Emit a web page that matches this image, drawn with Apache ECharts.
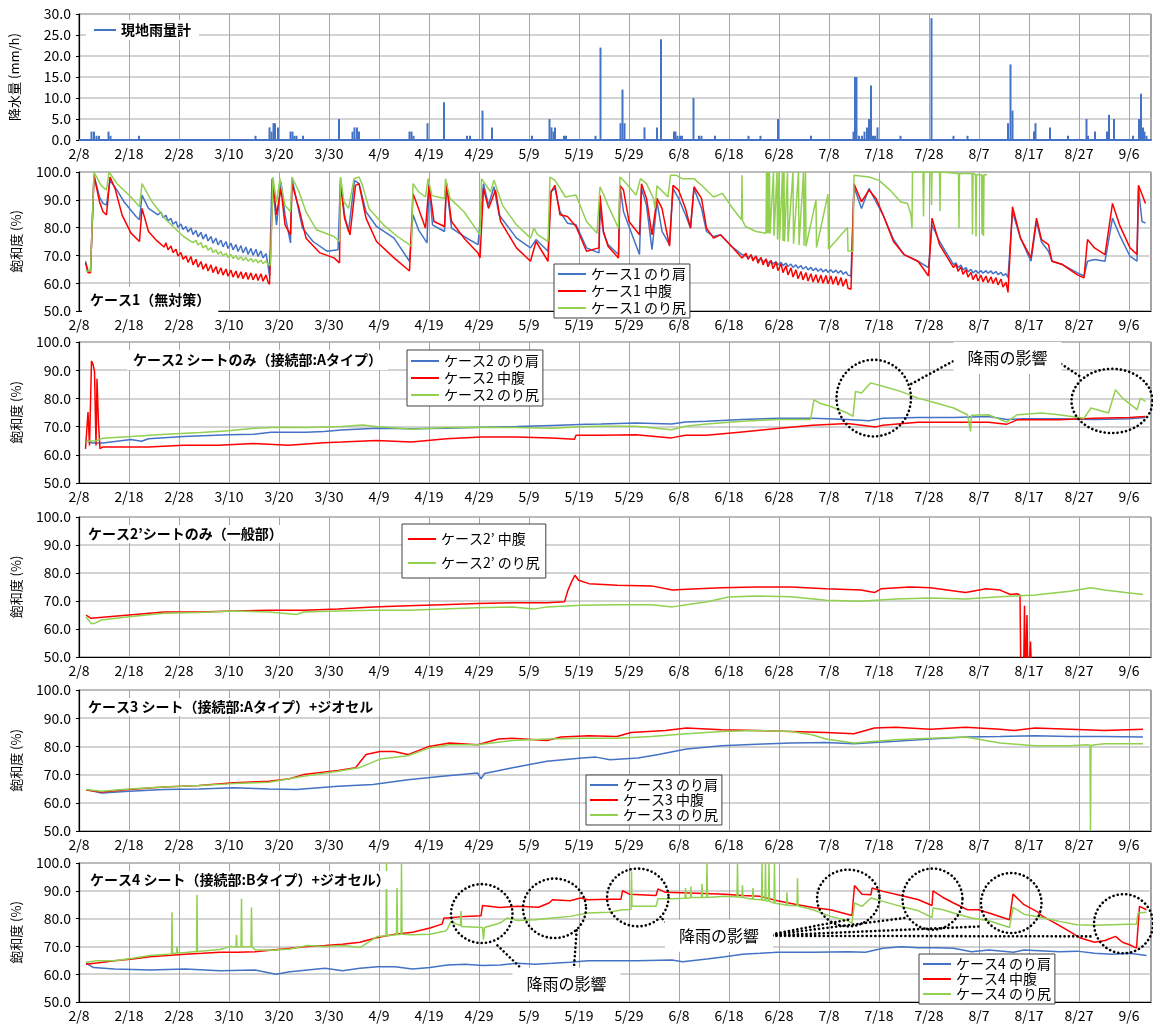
<!DOCTYPE html>
<html><head><meta charset="utf-8">
<script src="https://cdn.jsdelivr.net/npm/echarts@6/dist/echarts.min.js"></script>
<style>html,body{margin:0;padding:0;background:#fff}#c{width:1153px;height:1026px}</style>
</head><body><div id="c"></div>
<script>
// ---- tick labels (day 0 = 2/8) ----
const tickLabels = ['2/8','2/18','2/28','3/10','3/20','3/30','4/9','4/19','4/29','5/9','5/19','5/29','6/8','6/18','6/28','7/8','7/18','7/28','8/7','8/17','8/27','9/6'];

// ---- rainfall [day, mm/h] ----
const rainfall = [[2.5,2],[3,2],[3.5,1],[4,1],[5.9,2],[6.3,1],[12,1],[35.3,1],[38.1,3],[38.5,2],[38.9,4],[39.2,4],[39.8,3],[42.3,2],[42.7,2],[43.1,1],[43.5,1],[44.8,1],[52,5],[54.7,2],[55.1,3],[55.6,3],[56,2],[66.1,2],[66.5,2],[66.9,1],[69.7,4],[73,9],[77.6,1],[78.2,1],[80.7,7],[82.6,3],[90.6,1],[94.1,5],[94.5,3],[94.9,2],[95.2,3],[97,1],[97.4,1],[103.3,1],[104.3,22],[108.3,4],[108.7,12],[109.1,4],[113.1,3],[115.6,3],[116.4,24],[119,2],[119.3,2],[119.7,1],[120.2,1],[120.6,1],[122.9,10],[124,1],[124.5,1],[127.2,1],[133.9,1],[136.3,1],[139.8,5],[146.4,1],[154.9,2],[155.2,15],[155.5,15],[156,1],[156.6,1],[157.1,2],[157.6,3],[158,5],[158.4,13],[158.8,1],[159.2,1],[159.7,3],[164.3,1],[170.5,29],[174.9,1],[177.7,1],[185.8,4],[186.3,18],[186.7,7],[191,2],[191.3,4],[194.2,3],[197.8,1],[201.5,5],[201.8,1],[203.2,2],[205.6,2],[206,6],[207,5],[210.8,1],[212,5],[212.4,11],[212.8,3],[213.1,2],[213.5,1]];

// ---- case 1 ----
const c1Shoulder = [[1.3,67.9],[1.8,64.4],[2.3,64.4],[3,98.8],[4.1,91],[4.8,88.7],[5.5,88.1],[6.2,97],[7.6,93.5],[9,89.3],[11.4,84],[12.1,82.8],[12.6,91.7],[13.9,86.9],[15.8,84.6],[16.4,85.6],[16.8,83.6],[17.4,84.4],[17.8,82.4],[18.4,83.3],[18.8,81.2],[19.4,82.2],[19.8,80.1],[20.4,81.3],[20.8,79.3],[21.4,80.4],[21.8,78.4],[22.4,79.9],[22.8,77.5],[23.4,79],[23.8,76.7],[24.4,78.3],[24.8,75.9],[25.4,77.6],[25.8,75.2],[26.4,76.8],[26.8,74.4],[27.4,76.2],[27.8,73.8],[28.4,75.5],[28.8,73.1],[29.4,75],[29.8,72.5],[30.4,74.4],[30.8,72],[31.4,73.9],[31.8,71.4],[32.4,73.5],[32.8,70.9],[33.4,73],[33.8,70.4],[34.4,72.5],[34.8,70],[35.4,72.2],[35.8,69.6],[36.4,71.6],[36.8,69.1],[37.4,70.6],[37.8,66.5],[38.1,62.6],[38.6,97.6],[39.5,81],[40.4,96.4],[41.2,84.6],[42.3,74.5],[42.6,97.6],[44,85.7],[44.7,79.8],[46.8,75],[49.6,71.5],[51.8,72],[52.3,97.6],[53.1,84.6],[53.9,78.6],[55.1,97],[56,95.8],[57.4,85.7],[59.5,80.4],[63,76.2],[66.1,67.9],[66.8,84.6],[67.9,79.2],[69.6,74.5],[70,95.8],[70.7,81],[73.1,78.6],[73.5,95.8],[74.5,79.8],[77,76.8],[79.8,73.9],[80.9,95.8],[81.9,88.1],[83,94.7],[84,84.6],[87.5,76.2],[90.3,72.7],[91.4,75.7],[93.8,71.5],[94.4,92.9],[95.2,94.1],[96.2,85.7],[97.7,81.6],[99.4,81],[101.5,72.7],[104,70.9],[104.2,86.9],[104.9,78],[105.8,73.9],[107.9,70.3],[108.2,95.2],[108.9,85.7],[110,80.4],[112.1,70.3],[112.5,94.1],[113.5,88],[114.6,72.1],[115.6,89.3],[116.6,78.6],[118.1,73.9],[118.8,94.1],[119.9,90.5],[121.3,84.6],[122.3,79.8],[123,94.1],[124.5,87],[125.5,78.6],[126.9,76.8],[128.3,77.4],[130.5,73.3],[132.6,70.3],[134,69.3],[134.4,70.2],[134.8,68.7],[135.4,69.6],[135.8,68.1],[136.4,69],[136.8,67.6],[137.4,68.5],[137.8,67.2],[138.4,68.1],[138.8,66.9],[139.4,67.8],[139.8,66.6],[140.4,67.5],[140.8,66.3],[141.4,67.2],[141.8,66],[142.4,66.9],[142.8,65.7],[143.4,66.6],[143.8,65.4],[144.4,66.3],[144.8,65.1],[145.4,66],[145.8,64.8],[146.4,65.7],[146.8,64.5],[147.4,65.4],[147.8,64.3],[148.4,65.2],[148.8,64.1],[149.4,65],[149.8,63.9],[150.4,64.8],[150.8,63.8],[151.4,64.7],[151.8,63.6],[152.4,64.5],[152.8,63.3],[153.4,64.1],[153.8,62.9],[154.4,62.6],[155,94.7],[156.5,86.9],[158,94.1],[159.4,89.3],[160.8,84.6],[162.9,75.7],[165,70.3],[167.8,67.9],[169.9,65.6],[170.6,81],[172.1,75],[174.9,66.7],[175.4,67.3],[175.8,65.6],[176.4,66.5],[176.8,64.8],[177.4,65.6],[177.8,64.1],[178.4,65],[178.8,63.7],[179.4,64.6],[179.8,63.6],[180.4,64.5],[180.8,63.6],[181.4,64.5],[181.8,63.6],[182.4,64.4],[182.8,63.4],[183.4,64.2],[183.8,63.1],[184.4,63.9],[184.8,62.7],[185.4,63.4],[185.8,62],[186.7,85.7],[188.3,76.2],[190.4,67.9],[191.5,82.2],[192.5,74.8],[193.9,71.5],[194.6,67.9],[196.7,66.7],[199.6,63.8],[201,62.6],[201.7,67.9],[203.1,68.5],[205.2,67.9],[206.7,83.4],[208.1,77.4],[210.2,69.7],[211.6,67.9],[211.9,94.1],[212.6,82.2],[213.3,81.6]];
const c1Middle = [[1.3,67.3],[1.8,63.8],[2.3,63.8],[3,98.8],[4.1,89.3],[4.8,85.7],[5.5,84.6],[6.2,98.2],[7.2,94.1],[8.6,84.6],[10.4,78],[12.1,75],[12.6,86.9],[13.9,78.6],[15.5,75.4],[17,73],[17.4,74.5],[17.8,72],[18.4,73.4],[18.8,71],[19.4,72.2],[19.8,69.8],[20.4,71],[20.8,68.6],[21.4,69.8],[21.8,67.5],[22.4,69.6],[22.8,66.6],[23.4,68.6],[23.8,65.8],[24.4,67.8],[24.8,65],[25.4,67],[25.8,64.4],[26.4,66.6],[26.8,63.8],[27.4,66],[27.8,63.3],[28.4,65.5],[28.8,62.9],[29.4,65.1],[29.8,62.5],[30.4,64.7],[30.8,62.2],[31.4,64.4],[31.8,61.9],[32.4,64.1],[32.8,61.6],[33.4,63.9],[33.8,61.4],[34.4,63.7],[34.8,61.2],[35.4,63.4],[35.8,61],[36.4,63.4],[36.8,60.7],[37.4,63],[37.8,60.4],[38.1,59.6],[38.8,96.4],[39.5,84.6],[40.4,94.1],[41.2,81],[42.3,77.4],[42.6,95.8],[44,86.9],[45.4,76.2],[48.2,70.9],[51,69.1],[52.1,67.3],[52.3,95.8],[53.1,83.4],[54.2,77.4],[55.3,95.2],[56,95.8],[57.4,83.4],[59.5,75],[63,69.1],[66.1,64.4],[66.8,92.3],[67.9,86.9],[69.3,79.8],[70,95.2],[71,82.2],[73.1,80.4],[73.5,95.8],[74.5,82.2],[77,76.2],[79.8,70.9],[80.2,69.1],[80.9,94.1],[81.9,86.9],[83.3,93.5],[84.3,82.2],[87.5,72.7],[90.3,67.9],[91.4,75],[93.8,67.9],[94.4,92.9],[95.2,95.2],[96.2,84.6],[97.7,84],[99.4,80.4],[101.5,71.5],[104,72.7],[104.2,91.7],[104.9,78.6],[105.8,73.3],[107.9,69.1],[108.2,95.2],[108.9,93.5],[110,82.2],[112.1,77.4],[112.5,95.8],[113.5,90.5],[114.6,77.4],[115.6,90.5],[116.6,86.9],[118.1,73.3],[118.8,95.2],[119.9,93.5],[121.3,86.9],[122.3,79.8],[123,94.7],[124.5,90.5],[125.5,79.8],[126.9,76.2],[128.3,77.4],[130.5,73.3],[132.6,69.1],[133.4,70.8],[133.8,68.6],[134.4,70.3],[134.8,68],[135.4,69.8],[135.8,67.2],[136.4,69.3],[136.8,66.6],[137.4,68.8],[137.8,65.9],[138.4,68.2],[138.8,65.2],[139.4,67.6],[139.8,64.5],[140.4,67],[140.8,63.8],[141.4,66.3],[141.8,63],[142.4,65.5],[142.8,62.2],[143.4,64.8],[143.8,61.6],[144.4,64.2],[144.8,61.2],[145.4,63.8],[145.8,60.8],[146.4,63.4],[146.8,60.4],[147.4,63.1],[147.8,60.2],[148.4,62.9],[148.8,60],[149.4,62.8],[149.8,59.8],[150.4,62.6],[150.8,59.6],[151.4,62.4],[151.8,59.3],[152.4,62],[152.8,58.9],[153.4,61.5],[153.8,58.2],[154.4,57.8],[155,95.8],[156.5,89.3],[158,93.5],[159.4,90.5],[160.8,84.6],[162.9,75],[165,70.3],[167.8,67.9],[169.9,62.6],[170.6,83.4],[172.1,73.9],[174.9,65.6],[175.4,66.8],[175.8,64.3],[176.4,65.8],[176.8,63.2],[177.4,64.9],[177.8,62.2],[178.4,63.9],[178.8,61.3],[179.4,63.3],[179.8,60.8],[180.4,62.9],[180.8,60.5],[181.4,62.6],[181.8,60.2],[182.4,62.3],[182.8,59.9],[183.4,62],[183.8,59.4],[184.4,61.5],[184.8,58.6],[185.4,60.4],[185.8,56.7],[186.7,87.5],[188.3,76.2],[190.4,69.1],[191.5,83.4],[192.5,75.7],[193.9,73.9],[194.6,67.9],[196.7,66.7],[199.6,63.1],[201,61.9],[201.7,75.7],[203.1,72.7],[205.2,70.3],[206.7,88.7],[208.1,81],[210.2,72.7],[211.6,70.3],[211.9,95.2],[213.3,88.7]];
const c1Toe = [[1.3,64.6],[1.8,64.4],[2.3,64.4],[3,100],[4.4,95.2],[5.5,93.5],[6,100],[7.6,95.8],[10.4,91],[12.1,87.5],[12.6,95.8],[14.6,89.3],[17.4,82.8],[20.9,76.8],[22.8,74.6],[23.4,75.4],[23.8,73.8],[24.4,74.6],[24.8,72.7],[25.4,73.6],[25.8,71.9],[26.4,72.8],[26.8,71.1],[27.4,72],[27.8,70.4],[28.4,71.4],[28.8,69.8],[29.4,70.8],[29.8,69.3],[30.4,70.3],[30.8,68.9],[31.4,69.9],[31.8,68.5],[32.4,69.5],[32.8,68.2],[33.4,69.2],[33.8,67.9],[34.4,68.9],[34.8,67.6],[35.4,68.6],[35.8,67.3],[36.4,68.3],[36.8,67],[37.4,68],[37.8,66.7],[38.3,66.5],[38.8,98.2],[39.5,89],[40.2,97.6],[41.2,88],[42.3,85.7],[42.6,98.2],[44,92.9],[45.4,85.7],[47.5,79.2],[51,76.8],[52.1,75],[52.3,98.2],[53,89.3],[53.9,86.9],[55,97.6],[56,98.2],[56.7,95.2],[58,86.9],[60.9,81],[63.7,76.8],[66.5,73.3],[66.8,95.8],[67.9,92.9],[69.3,91],[69.8,97.6],[70.6,91.5],[73.1,90.5],[73.3,97.6],[74.2,90.5],[77,85.7],[80.2,77.4],[80.5,97.6],[82.3,92.9],[83,97],[84.7,88],[87.5,81],[90.3,76.2],[91,79.8],[91.7,77.5],[93.8,75],[94.2,98.2],[95.2,97],[97.3,91],[99.4,91.7],[101.5,82.2],[103.6,78],[104.2,94.7],[104.9,92],[105.8,88],[107.9,79.8],[108.2,98.2],[109.2,96.4],[111.4,91.7],[112.3,97.6],[113.5,95.8],[114.9,90.5],[115.2,86.9],[115.6,95],[117.8,91],[118.3,98.8],[119.5,98.8],[120.6,97.6],[123,97.6],[124.8,94.7],[126.9,91],[128.7,92.3],[130.5,87.5],[132.5,82.8],[132.6,98.8],[132.7,82.6],[133.3,80.4],[135.4,78.6],[137.4,78],[137.5,100],[137.6,78],[137.8,100],[137.9,78],[138.1,100],[138.2,77.8],[138.9,100],[139,77],[139.6,100],[139.7,75.7],[140,100],[140.1,75.5],[140.7,100],[140.8,75.2],[141,100],[141.1,75],[141.7,100],[141.8,74.8],[142.8,100],[142.9,74.2],[143.9,100],[144,73.8],[144.9,100],[145,73.5],[145.3,100],[145.4,73.3],[147.4,90],[147.5,72.8],[149.8,92],[149.9,72.2],[153.7,80],[153.8,71.6],[154.8,71.5],[155,98.8],[158,98.2],[160,97],[162.2,93.5],[164.3,89.3],[165.7,88.7],[166.4,84.6],[166.6,79.8],[166.7,100],[168.8,100],[168.9,84],[169,100],[170.4,100],[170.5,88],[170.6,100],[172.1,100],[172.2,86],[172.3,100],[175.9,99.5],[176,79.8],[176.1,99.5],[178.6,99.5],[178.7,77.5],[178.8,99.5],[179.3,99],[179.4,76.8],[179.5,99],[180.5,99],[180.6,77.5],[180.7,99],[180.9,77],[181,99],[181.6,99]];

// ---- case 2 ----
const c2Shoulder = [[1.3,65],[2.7,64.2],[4.8,64.2],[10.4,65.4],[12.5,64.8],[13.9,65.7],[20.9,66.5],[30,67.1],[35,67.3],[38.4,68],[45.4,68],[49,68.3],[52.5,68.8],[59.5,69.4],[66.5,69.2],[73.5,69.4],[80.5,69.8],[87.5,70],[94.5,70.4],[101.5,70.8],[104.4,70.9],[111.4,71.3],[118.5,70.9],[121.3,71.6],[125.5,71.9],[132.6,72.5],[139.6,73],[146.7,73],[153.7,72.5],[158,72.1],[160.8,73],[167.8,73.2],[174.9,73.2],[181.9,73.6],[185.5,72.5],[189,72.8],[196,72.8],[203.1,72.5],[210.1,72.8],[213.3,73.2]];
const c2Middle = [[1.3,62.1],[1.8,75.2],[2.1,63.3],[2.5,93.3],[2.8,92.1],[3.1,89.6],[3.4,63.3],[3.6,87],[3.9,70.9],[4.2,62.2],[4.5,61.6],[4.8,62.8],[10.4,62.8],[13.9,62.8],[20.9,63.4],[27.9,63.4],[34.9,64],[41.9,63.4],[48.9,64.3],[52.5,64.5],[59.5,65.1],[66.5,64.5],[73.5,65.7],[80.5,66.3],[87.5,66.3],[94.5,66],[99.1,65.5],[99.4,66.9],[104.4,66.9],[111.4,67.1],[118.5,66],[121.3,66.9],[125.5,66.9],[132.6,68.1],[139.6,69.3],[146.7,70.5],[153.7,71.1],[159.4,69.9],[160.8,70.5],[167.8,71.5],[174.9,71.5],[181.9,71.5],[185.5,70.8],[187.6,72.4],[196,72.4],[203.1,73],[210.1,73.2],[213.3,73.6]];
const c2Toe = [[1.3,64.7],[3.4,65],[4.8,65.9],[10.4,66.5],[17.4,67.3],[24.4,67.9],[30,68.5],[35,69.4],[39.8,69.8],[45.4,69.7],[52.5,70],[56.7,70.6],[59.5,70],[66.5,69.1],[73.5,69.7],[80.5,69.8],[87.5,69.7],[94.5,69.4],[101.5,70],[104.4,70.1],[111.4,70.1],[118.5,68.9],[121.3,70.1],[125.5,70.9],[132.6,71.9],[139.6,72.5],[146.3,72.5],[147,79.6],[148,78.4],[150.2,77.2],[153.7,74.8],[154.8,73.6],[155.3,82.5],[156.5,81.9],[158.3,85.5],[160.8,84.3],[164.3,82.5],[167.8,80.1],[171.4,78.4],[174.9,76.6],[177.7,74.2],[178.3,68.3],[178.5,74],[181.9,74.2],[185.5,71.6],[187.6,74.2],[192.5,74.8],[196,74.2],[201,73],[202.4,76.6],[205.9,74.8],[207.3,83.1],[208.7,80.1],[211.6,76],[212.3,80.1],[213.3,78.9]];

// ---- case 2' ----
const c2pMiddle = [[1.4,65],[2.4,63.8],[10,65],[17,66.1],[24,66.1],[31,66.4],[38,66.7],[45,66.7],[51.8,67.1],[58.8,67.9],[65.8,68.3],[72.7,68.7],[79.7,69.1],[86.7,69.4],[93.6,69.4],[97.1,69.7],[97.8,73.9],[98.5,76.8],[99.2,79.2],[99.9,77.4],[102,76.2],[107.6,75.6],[114.5,75.4],[118.7,73.9],[121.5,74.2],[128.5,74.7],[135.5,75],[142.4,75],[149.4,74.4],[156.4,73.9],[159.1,73],[160.5,74.4],[166.1,75],[170.3,74.7],[177.3,73],[181.4,74.4],[184.2,73.9],[186.3,72.3],[187.7,72.6],[188.2,72],[188.4,40],[188.9,40],[189.1,68.3],[189.3,40],[189.6,65],[189.8,40],[190.3,55.5],[190.6,40]];
const c2pToe = [[1.4,64.4],[2.4,62],[3.1,62],[4.5,63.2],[10,64.4],[17,65.6],[24,65.9],[31,66.4],[38,66.1],[43.5,65.2],[44.9,66.1],[51.8,66.4],[58.8,66.7],[65.8,66.7],[72.7,67.1],[79.7,67.6],[86.7,67.9],[90.9,67.1],[93.6,67.9],[100.6,68.5],[107.6,68.7],[114.5,68.7],[118.7,67.9],[121.5,68.7],[125.7,69.7],[129.9,71.4],[135.5,71.8],[142.4,71.5],[149.4,70.3],[156.4,69.9],[163.3,70.7],[170.3,71.1],[177.3,70.7],[184.2,71.5],[191.2,72.1],[198.2,73.5],[202.3,74.7],[205.1,73.9],[209.3,73],[212.8,72.3]];

// ---- case 3 ----
const c3Shoulder = [[1.4,64.7],[4.5,63.5],[10,64.1],[17,64.7],[24,64.9],[31,65.3],[38,64.9],[43.5,64.7],[51.8,65.9],[58.8,66.5],[65.8,68.2],[72.7,69.4],[79.7,70.6],[80.4,68.5],[81.1,70.4],[86.7,72.4],[93.6,74.7],[100.6,75.9],[103.4,76.2],[106.2,75.3],[111.8,75.9],[115.9,77.1],[121.5,79.1],[128.5,80.2],[135.5,80.8],[142.4,81.2],[149.4,81.4],[155,80.9],[163.3,81.8],[170.3,82.6],[177.3,83.3],[184.2,83.5],[191.2,83.8],[198.2,83.5],[205.1,83.5],[212.8,83.3]];
const c3Middle = [[1.4,64.5],[4.5,63.8],[10,64.7],[17,65.6],[24,66.1],[31,67.1],[38,67.6],[42.1,68.5],[44.9,70],[51.8,71.5],[55.3,72.4],[57.4,77.1],[60.2,78.2],[63,78.2],[65.8,77.1],[70,80],[74.1,81.2],[79.7,80.6],[83.9,82.6],[86.7,82.9],[93.6,82.1],[96.4,83.3],[102,83.8],[107.6,83.5],[110.4,84.9],[117.3,85.6],[121.5,86.5],[128.5,85.9],[135.5,85.6],[142.4,85.3],[149.4,84.9],[155,84.5],[159.1,86.5],[163.3,86.8],[170.3,86.1],[177.3,86.8],[184.2,86.1],[187,85.6],[191.2,86.5],[198.2,86.1],[205.1,85.6],[212.8,86.1]];
const c3Toe = [[1.4,64.7],[4.5,64.1],[10,64.9],[17,65.6],[24,66.1],[31,66.8],[38,67.3],[44.9,69.4],[51.8,71.2],[56,72.4],[60.2,75.5],[65.8,76.7],[70,79.4],[74.1,80.6],[79.7,80.6],[86.7,82.1],[93.6,82.6],[100.6,82.9],[107.6,82.9],[114.5,83.5],[121.5,84.5],[128.5,85.3],[135.5,85.6],[142.4,85.3],[146.6,84.1],[149.4,82.6],[155,81.2],[163.3,82.4],[170.3,82.9],[177.3,83.3],[184.2,81.2],[191.2,80.2],[198.2,80.2],[201.6,80.6],[202.2,80.4],[202.3,50],[202.4,80.4],[205.1,80.9],[212.8,80.9]];

// ---- case 4 ----
const c4Shoulder = [[1.4,64],[2.9,62.4],[7.1,61.9],[14.2,61.5],[21.2,61.9],[28.2,61.2],[35.2,61.5],[39.4,60],[42.2,60.9],[45.7,61.5],[49.2,62.1],[52.7,61.2],[56.2,62.1],[59.7,62.7],[63.2,62.7],[66.7,61.9],[70.2,62.4],[73.7,63.3],[77.2,63.6],[80.7,63.1],[84.2,63.3],[87.7,63.9],[91.2,63.6],[94.7,63.9],[98.2,64.3],[101.8,64.8],[104.5,64.8],[111.5,64.8],[118.6,65.1],[120.7,64.5],[125.6,65.5],[129.2,66.3],[132.7,67.2],[136.2,67.5],[139.7,67.9],[146.8,67.9],[153.8,68.1],[157.3,67.9],[160.8,69.3],[164.4,69.9],[167.9,69.5],[171.4,69.5],[174.9,69.3],[178.5,68.1],[182,68.7],[186.9,67.9],[189,68.7],[196.1,68.1],[199.6,68.3],[203.1,67.5],[206.6,67.2],[210.1,67.5],[213.5,66.7]];
const c4Middle = [[1.4,63.6],[3.6,64],[7.1,64.8],[10.7,65.5],[14.2,66.3],[17.7,66.7],[21.2,67.2],[24.7,67.5],[28.2,67.9],[31.7,67.9],[35.2,68.1],[38.7,68.7],[42.2,69.3],[45.7,70],[49.2,70.3],[52.7,70.8],[56.2,71.5],[59.7,73.2],[63.2,74.4],[66.7,75.1],[70.2,76.6],[72.6,78],[73,80.2],[73.7,80.2],[77.2,80.8],[80.4,81],[80.7,84.7],[84.2,84],[87.7,84.4],[91.9,84.1],[94,85.6],[94.7,86.8],[98.2,86.4],[100.3,87.4],[101.8,86.8],[106,87],[108.4,87],[108.7,90],[110.1,88.8],[115.4,88.3],[115.8,90.7],[117.2,89.5],[122.1,89.2],[129.2,88.8],[132.7,88.3],[136.2,88],[139.7,86.4],[143.2,85.2],[146.8,84],[150.3,83.2],[154.6,81.1],[155.1,91.9],[156.6,88.8],[158.4,88.6],[158.6,91],[160.8,89.8],[164.4,88.3],[167.9,86.8],[170.6,84.7],[170.8,90],[172.8,87.6],[174.9,85.6],[177.7,83.2],[179.9,83.2],[182,82],[186.1,79.6],[186.8,88.8],[189,85],[191.8,82.3],[192.5,81.1],[194.6,79],[197.5,76],[200.3,73],[203.1,71.5],[205.2,72.1],[207.3,73.6],[208.7,71.5],[210.1,70.6],[211.5,69.4],[212.1,84.4],[213.5,83.2]];
const c4Toe = [[1.4,64.3],[3.6,64.8],[7.1,64.8],[10.7,65.7],[14.2,66.7],[17.7,67.2],[18.5,67.3],[18.6,82.3],[18.7,67.4],[19.5,67.6],[19.6,70],[19.7,67.6],[21.2,67.8],[23.5,68.2],[23.6,88.6],[23.7,68.2],[28.2,68.9],[30.3,70],[31.4,69.8],[31.5,74.2],[31.6,69.8],[32.4,69.9],[32.5,87.1],[32.6,69.9],[34.4,70],[34.5,84],[34.6,70],[35.2,68.8],[38.7,68.6],[42.2,69.1],[45.7,70.3],[49.2,70],[52.7,70.3],[56.2,69.6],[59.7,73.6],[61.4,73.8],[61.5,100],[61.6,73.8],[63.5,74.2],[63.6,91],[63.7,74.2],[64.4,74.4],[64.5,100],[64.6,74.4],[66.7,74.2],[70.2,74.4],[73.3,75.5],[73.7,76.3],[74.4,79],[75.5,78],[76.3,77.5],[76.4,82.7],[76.5,77.2],[80.7,76.8],[80.9,72.4],[81.1,76.8],[84.2,78.4],[85.6,80.2],[87.7,79.3],[91.2,79.6],[94.7,80.2],[98.2,80.8],[101.8,82],[106,82.3],[108.7,83.2],[110.4,83.3],[110.5,97],[110.6,84.4],[115.4,84.4],[115.8,87.1],[118.6,87.1],[121.2,87.3],[121.3,91],[121.4,87.3],[122.3,87.5],[122.4,91.5],[122.5,87.6],[124.5,87.6],[124.6,92.5],[124.7,87.6],[125.5,87.6],[125.6,100],[125.7,87.6],[129.2,88],[131.6,87.8],[131.7,100],[131.8,87.8],[132.6,87.6],[132.7,92],[132.8,87.6],[134.7,87],[134.8,91],[134.9,87],[136.5,86.8],[136.6,100],[136.7,86.6],[137.2,86.5],[137.3,100],[137.4,86.4],[137.9,86.3],[138,100],[138.1,86.2],[139,85.6],[139.1,100],[139.2,85.5],[141.5,84.9],[141.6,89.5],[141.7,84.8],[143.6,84.6],[143.7,94.5],[143.8,84.5],[146.8,83.2],[150.3,80.8],[153.8,79.2],[154.6,78.4],[155.1,85.6],[156.6,84.4],[158.4,87.4],[160.8,86.2],[164.4,84.4],[167.9,82.8],[170.6,80.4],[170.8,83.8],[172.8,83.2],[174.9,82],[178.5,80.2],[182,79.2],[186.1,76.8],[186.8,84],[189,81.6],[192.5,80.4],[196.1,79],[199.6,77.8],[203.1,77.6],[206.6,77.8],[211.5,78.1],[211.8,82],[213.5,82.3]];

// ---- annotation placement (data coords) ----
const ellipses = [ // [grid, dayFrom, dayTo, valTop, valBottom]
  [2,151.5,166.4,93.7,66.5],[2,198.5,214.7,90.5,67.7],
  [5,74.4,86.7,92.4,71.2],[5,88.8,101.4,94.4,73],[5,105.6,117.9,98,77.2],[5,147.6,160.1,97.6,77.2],[5,164.7,176.7,98,76],[5,180.4,192.5,96.4,74.8],[5,203,214.8,88.8,67.5]
];
const connectors = [ // [grid, d1, v1, d2, v2]
  [2,176.3,94.6,166.4,85.1],[2,195,93.9,200.3,87.7],
  [5,90.5,58.5,83.2,71.2],[5,98.9,60.3,99.6,77.2],
  [5,118.6,76.6,116.5,80.2],
  [5,136.9,73.8,153.8,79.6],[5,136.9,73.8,165.1,80.2],[5,136.9,73.8,180.6,77.2],[5,136.9,73.8,203.1,73.6]
];
const notes = [ // [grid, day, value, text]
  [2,185.7,94.3,'降雨の影響'],[5,97.5,56.6,'降雨の影響'],[5,128,73.8,'降雨の影響']
];

const FONT = '"Noto Sans CJK JP", sans-serif';
const BLUE = '#4472C4', RED = '#FF0000', GREEN = '#92D050';
const gridPos = [[14,126],[172,139],[342,141],[517,140],[690,141],[863,139]];
const XMAX = 214.4;

const grids = gridPos.map(p => ({left:79, width:1072, top:p[0], height:p[1], show:true, borderColor:'#404040', borderWidth:1, backgroundColor:'#fff'}));
const xAxes = gridPos.map((p,i) => ({
  type:'value', gridIndex:i, min:0, max:XMAX, interval:10,
  axisLine:{show:true, onZero:false, lineStyle:{color: i===0 ? BLUE : '#000', width: i===0 ? 2 : 1.2}},
  axisTick:{show:false},
  axisLabel:{fontFamily:FONT, fontSize:14, color:'#000', margin:7, showMaxLabel:false,
    formatter: v => { const k = Math.round(v/10); return (Math.abs(v-k*10)<1e-6 && tickLabels[k]) ? tickLabels[k] : ''; }},
  splitLine:{show:true, lineStyle:{color:'#a6a6a6', width:1}}
}));
const yAxes = gridPos.map((p,i) => ({
  type:'value', gridIndex:i, min: i===0?0:50, max: i===0?30:100, interval: i===0?5:10,
  name: i===0 ? '降水量 (mm/h)' : '飽和度 (%)', nameLocation:'middle', nameGap: i===0?58:56,
  nameTextStyle:{fontFamily:FONT, fontSize:13, color:'#000'},
  axisLine:{show:true, lineStyle:{color:'#000', width:1.2}},
  axisTick:{show:true, length:3, lineStyle:{color:'#000'}},
  axisLabel:{fontFamily:FONT, fontSize:14, color:'#000', margin:8, formatter: v => v.toFixed(1)},
  splitLine:{show:true, lineStyle:{color:'#c4c4c4', width:1.5}}
}));

function line(name, data, color, g){
  return {type:'line', name, data, xAxisIndex:g, yAxisIndex:g, showSymbol:false, symbol:'none',
    lineStyle:{color, width:1.5}, itemStyle:{color}, clip:true, z:3};
}
const series = [
  {type:'bar', name:'現地雨量計', data:rainfall, xAxisIndex:0, yAxisIndex:0, barWidth:2, itemStyle:{color:BLUE}, z:3},
  line('ケース1 のり肩', c1Shoulder, BLUE, 1), line('ケース1 中腹', c1Middle, RED, 1), line('ケース1 のり尻', c1Toe, GREEN, 1),
  line('ケース2 のり肩', c2Shoulder, BLUE, 2), line('ケース2 中腹', c2Middle, RED, 2), line('ケース2 のり尻', c2Toe, GREEN, 2),
  line('ケース2’ 中腹', c2pMiddle, RED, 3), line('ケース2’ のり尻', c2pToe, GREEN, 3),
  line('ケース3 のり肩', c3Shoulder, BLUE, 4), line('ケース3 中腹', c3Middle, RED, 4), line('ケース3 のり尻', c3Toe, GREEN, 4),
  line('ケース4 のり肩', c4Shoulder, BLUE, 5), line('ケース4 中腹', c4Middle, RED, 5), line('ケース4 のり尻', c4Toe, GREEN, 5)
];

const legBase = {orient:'vertical', icon:'rect', itemWidth:28, itemHeight:2, backgroundColor:'#fff', borderColor:'#404040', borderWidth:1,
  textStyle:{fontFamily:FONT, fontSize:14, color:'#000'}, selectedMode:false, z:10};
const legends = [
  Object.assign({}, legBase, {data:[{name:'現地雨量計', icon:'rect'}], left:86, top:20, borderWidth:0, itemWidth:22, padding:[3,8], textStyle:{fontFamily:FONT, fontSize:14, fontWeight:'bold', color:'#000'}}),
  Object.assign({}, legBase, {data:['ケース1 のり肩','ケース1 中腹','ケース1 のり尻'], left:554, top:264, itemGap:3, padding:[3,4]}),
  Object.assign({}, legBase, {data:['ケース2 のり肩','ケース2 中腹','ケース2 のり尻'], left:407, top:350, itemGap:3, padding:[4,4]}),
  Object.assign({}, legBase, {data:['ケース2’ 中腹','ケース2’ のり尻'], left:402, top:524, itemGap:10, padding:[8,6]}),
  Object.assign({}, legBase, {data:['ケース3 のり肩','ケース3 中腹','ケース3 のり尻'], left:586, top:775, itemGap:1, padding:[3,4]}),
  Object.assign({}, legBase, {data:['ケース4 のり肩','ケース4 中腹','ケース4 のり尻'], left:919, top:954, itemGap:1, padding:[3,4]})
];
const tStyle = {fontFamily:FONT, fontSize:14, fontWeight:'bold', color:'#000'};
const titles = [
  {text:'ケース1（無対策）', left:82, top:287, padding:[6,8], backgroundColor:'#fff', textStyle:tStyle},
  {text:'ケース2 シートのみ（接続部:Aタイプ）', left:127, top:350, padding:[3,6], backgroundColor:'#fff', textStyle:tStyle},
  {text:'ケース2’シートのみ（一般部）', left:82, top:525, padding:[2,6], backgroundColor:'#fff', textStyle:tStyle},
  {text:'ケース3 シート（接続部:Aタイプ）+ジオセル', left:82, top:698, padding:[2,6], backgroundColor:'#fff', textStyle:tStyle},
  {text:'ケース4 シート（接続部:Bタイプ）+ジオセル）', left:84, top:871, padding:[2,6], backgroundColor:'#fff', textStyle:tStyle}
];

const chart = echarts.init(document.getElementById('c'), null, {renderer:'canvas'});
chart.setOption({animation:false, backgroundColor:'#fff', grid:grids, xAxis:xAxes, yAxis:yAxes, series, legend:legends, title:titles});

// annotations
const px = (g,d,v) => chart.convertToPixel({gridIndex:g}, [d,v]);
const graphics = [];
const dotStyle = {stroke:'#000', lineWidth:2.6, lineDash:[0.1,4.2], lineCap:'round', fill:null};
connectors.forEach(c => {
  const a = px(c[0],c[1],c[2]), b = px(c[0],c[3],c[4]);
  graphics.push({type:'line', shape:{x1:a[0],y1:a[1],x2:b[0],y2:b[1]}, style:Object.assign({}, dotStyle), z:20});
});
notes.forEach(n => {
  const p = px(n[0],n[1],n[2]);
  graphics.push({type:'text', x:p[0], y:p[1], style:{text:n[3], font:'16px ' + FONT, fill:'#000', align:'center', verticalAlign:'middle', backgroundColor:'#fff', padding:[8,14]}, z:21});
});
ellipses.forEach(e => {
  const a = px(e[0],e[1],e[3]), b = px(e[0],e[2],e[4]);
  const cx=(a[0]+b[0])/2, cy=(a[1]+b[1])/2, rx=Math.abs(b[0]-a[0])/2, ry=Math.abs(b[1]-a[1])/2;
  const pts=[]; for(let k=0;k<=72;k++){const t=k/72*Math.PI*2; pts.push([cx+rx*Math.cos(t), cy+ry*Math.sin(t)]);}
  graphics.push({type:'polyline', shape:{points:pts}, style:Object.assign({}, dotStyle), z:22});
});
chart.setOption({graphic:graphics});
</script></body></html>
